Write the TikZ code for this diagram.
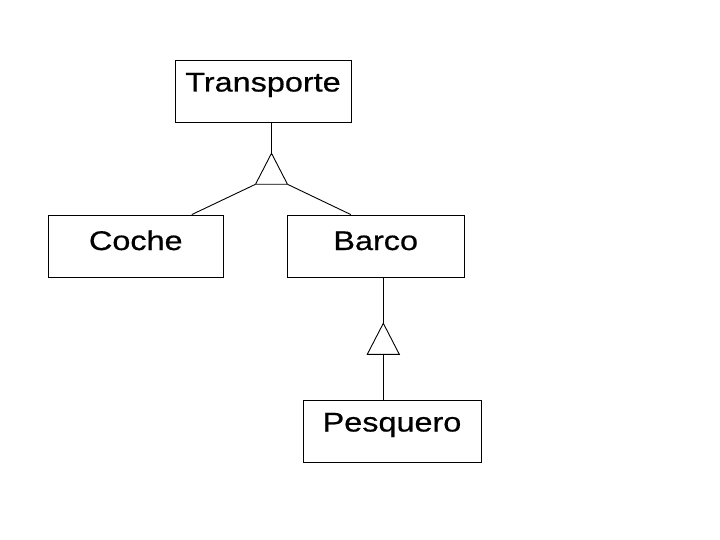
\documentclass[tikz,border=0pt]{standalone}
\usepackage{fontspec}
\newfontfamily\labfont[FakeStretch=1.2,FakeBold=0.6]{Liberation Sans}
\begin{document}
\begin{tikzpicture}[x=1pt,y=-1pt,line width=0.9pt,
  cls/.style={draw,inner sep=0pt,anchor=base,font=\labfont\fontsize{27}{30}\selectfont},
  gen/.style={draw,fill=white}]
\useasboundingbox[fill=white] (0,0) rectangle (720,540);
\node[cls,minimum width=176pt,text height=31.5pt,text depth=30.5pt] (T) at (263,91.5) {Transporte};
\node[cls,minimum width=175pt,text height=35pt,text depth=27pt] (C) at (135.8,250) {Coche};
\node[cls,minimum width=177pt,text height=35pt,text depth=27pt] (B) at (375.7,250) {Barco};
\node[cls,minimum width=178pt,text height=31pt,text depth=31pt] (P) at (392,431.5) {Pesquero};
% generalization triangle 1
\coordinate (t1a) at (271.5,153.3);
\coordinate (t1l) at (255.5,184.3);
\coordinate (t1r) at (287.5,184.3);
\coordinate (cC) at ([xshift=144pt]C.north west);
\coordinate (cB) at ([xshift=64pt]B.north west);
\draw (t1a |- T.south) -- (t1a);
\draw (t1l) -- (cC);
\draw (t1r) -- (cB);
\draw (t1a) -- (t1l) -- (t1r) -- cycle;
% generalization triangle 2
\coordinate (t2a) at (383.3,323.3);
\coordinate (t2l) at (367.3,354.3);
\coordinate (t2r) at (399.3,354.3);
\coordinate (t2b) at (383.3,354.3);
\draw (t2a |- B.south) -- (t2a);
\draw (t2b) -- (t2b |- P.north);
\draw (t2a) -- (t2l) -- (t2r) -- cycle;
\end{tikzpicture}
\end{document}
